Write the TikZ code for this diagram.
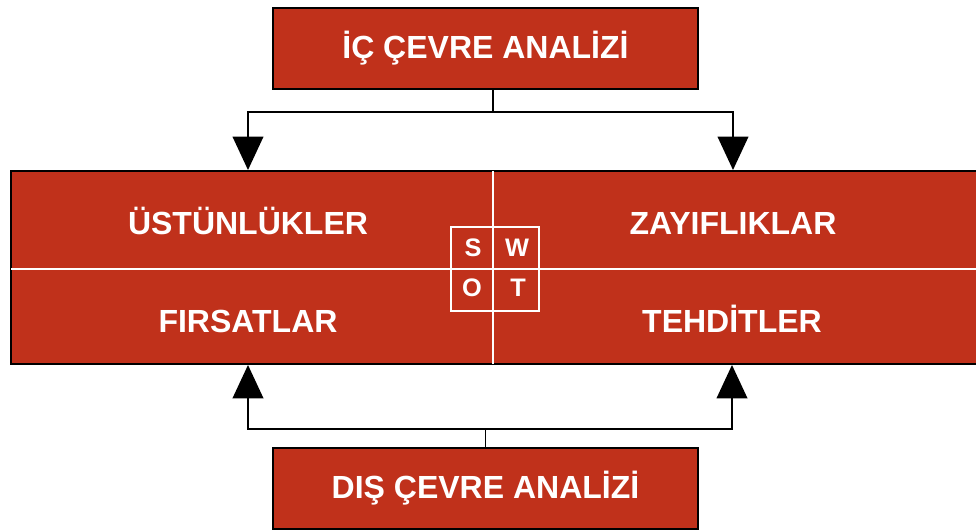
\documentclass[tikz,border=0pt]{standalone}
\usepackage{fontspec}
\setmainfont{Liberation Sans}
\usetikzlibrary{arrows.meta}
\definecolor{swotred}{RGB}{192,49,27}
\tikzset{
  baslik/.style={draw=black, line width=1.2pt, fill=swotred, text=white,
    font=\fontsize{24}{24}\selectfont\bfseries,
    minimum width=318.75pt, minimum height=60.75pt, inner sep=0pt},
  etiket/.style={text=white, font=\fontsize{24}{24}\selectfont\bfseries, inner sep=0pt, anchor=base},
  harf/.style={text=white, font=\fontsize{19}{19}\selectfont\bfseries, inner sep=0pt, anchor=base},
  ok/.style={line width=1.2pt, -{Triangle[width=23pt,length=25pt]}},
  ayrac/.style={white, line width=1.2pt, shorten <=0.8pt, shorten >=0.8pt}
}
\begin{document}
\begin{tikzpicture}[x=0.75pt,y=0.75pt]
    \useasboundingbox (0,0) rectangle (976,531);
    \node[baslik] (ic) at (485.5,482.5) {İÇ ÇEVRE ANALİZİ};
    \node[baslik] (dis) at (485.5,42.5) {DIŞ ÇEVRE ANALİZİ};
    \node[draw=black, line width=1.5pt, fill=swotred, inner sep=0pt,
      minimum width=726pt, minimum height=144.75pt] (tablo) at (495,263.5) {};
    \coordinate (orta) at (493,262);

    \draw[ayrac] (tablo.north -| orta) -- (tablo.south -| orta);
    \draw[ayrac] (tablo.west |- orta) -- (tablo.east |- orta);
    \node[draw=white, line width=1pt, minimum width=66pt, minimum height=63pt] (kutu) at (495,262) {};

    \node[etiket] (ust) at (248,296.5) {ÜSTÜNLÜKLER};
    \node[etiket] (zay) at (733,296.5) {ZAYIFLIKLAR};
    \node[etiket] (fir) at (248,198.5) {FIRSATLAR};
    \node[etiket] (teh) at (732,198.5) {TEHDİTLER};

    \node[harf] (s) at (473,274) {S};
    \node[harf] (w) at (517,274) {W};
    \node[harf] (o) at (472,234) {O};
    \node[harf] (t) at (518,234) {T};

    \draw[ok] (ic.south -| orta) -- ++(0,-22) -| (tablo.north -| ust);
    \draw[ok] (ic.south -| orta) -- ++(0,-22) -| (tablo.north -| zay);
    \draw[ok] (dis.north) -- ++(0,18) -| (tablo.south -| fir);
    \draw[ok] (dis.north) -- ++(0,18) -| (tablo.south -| teh);
\end{tikzpicture}
\end{document}
